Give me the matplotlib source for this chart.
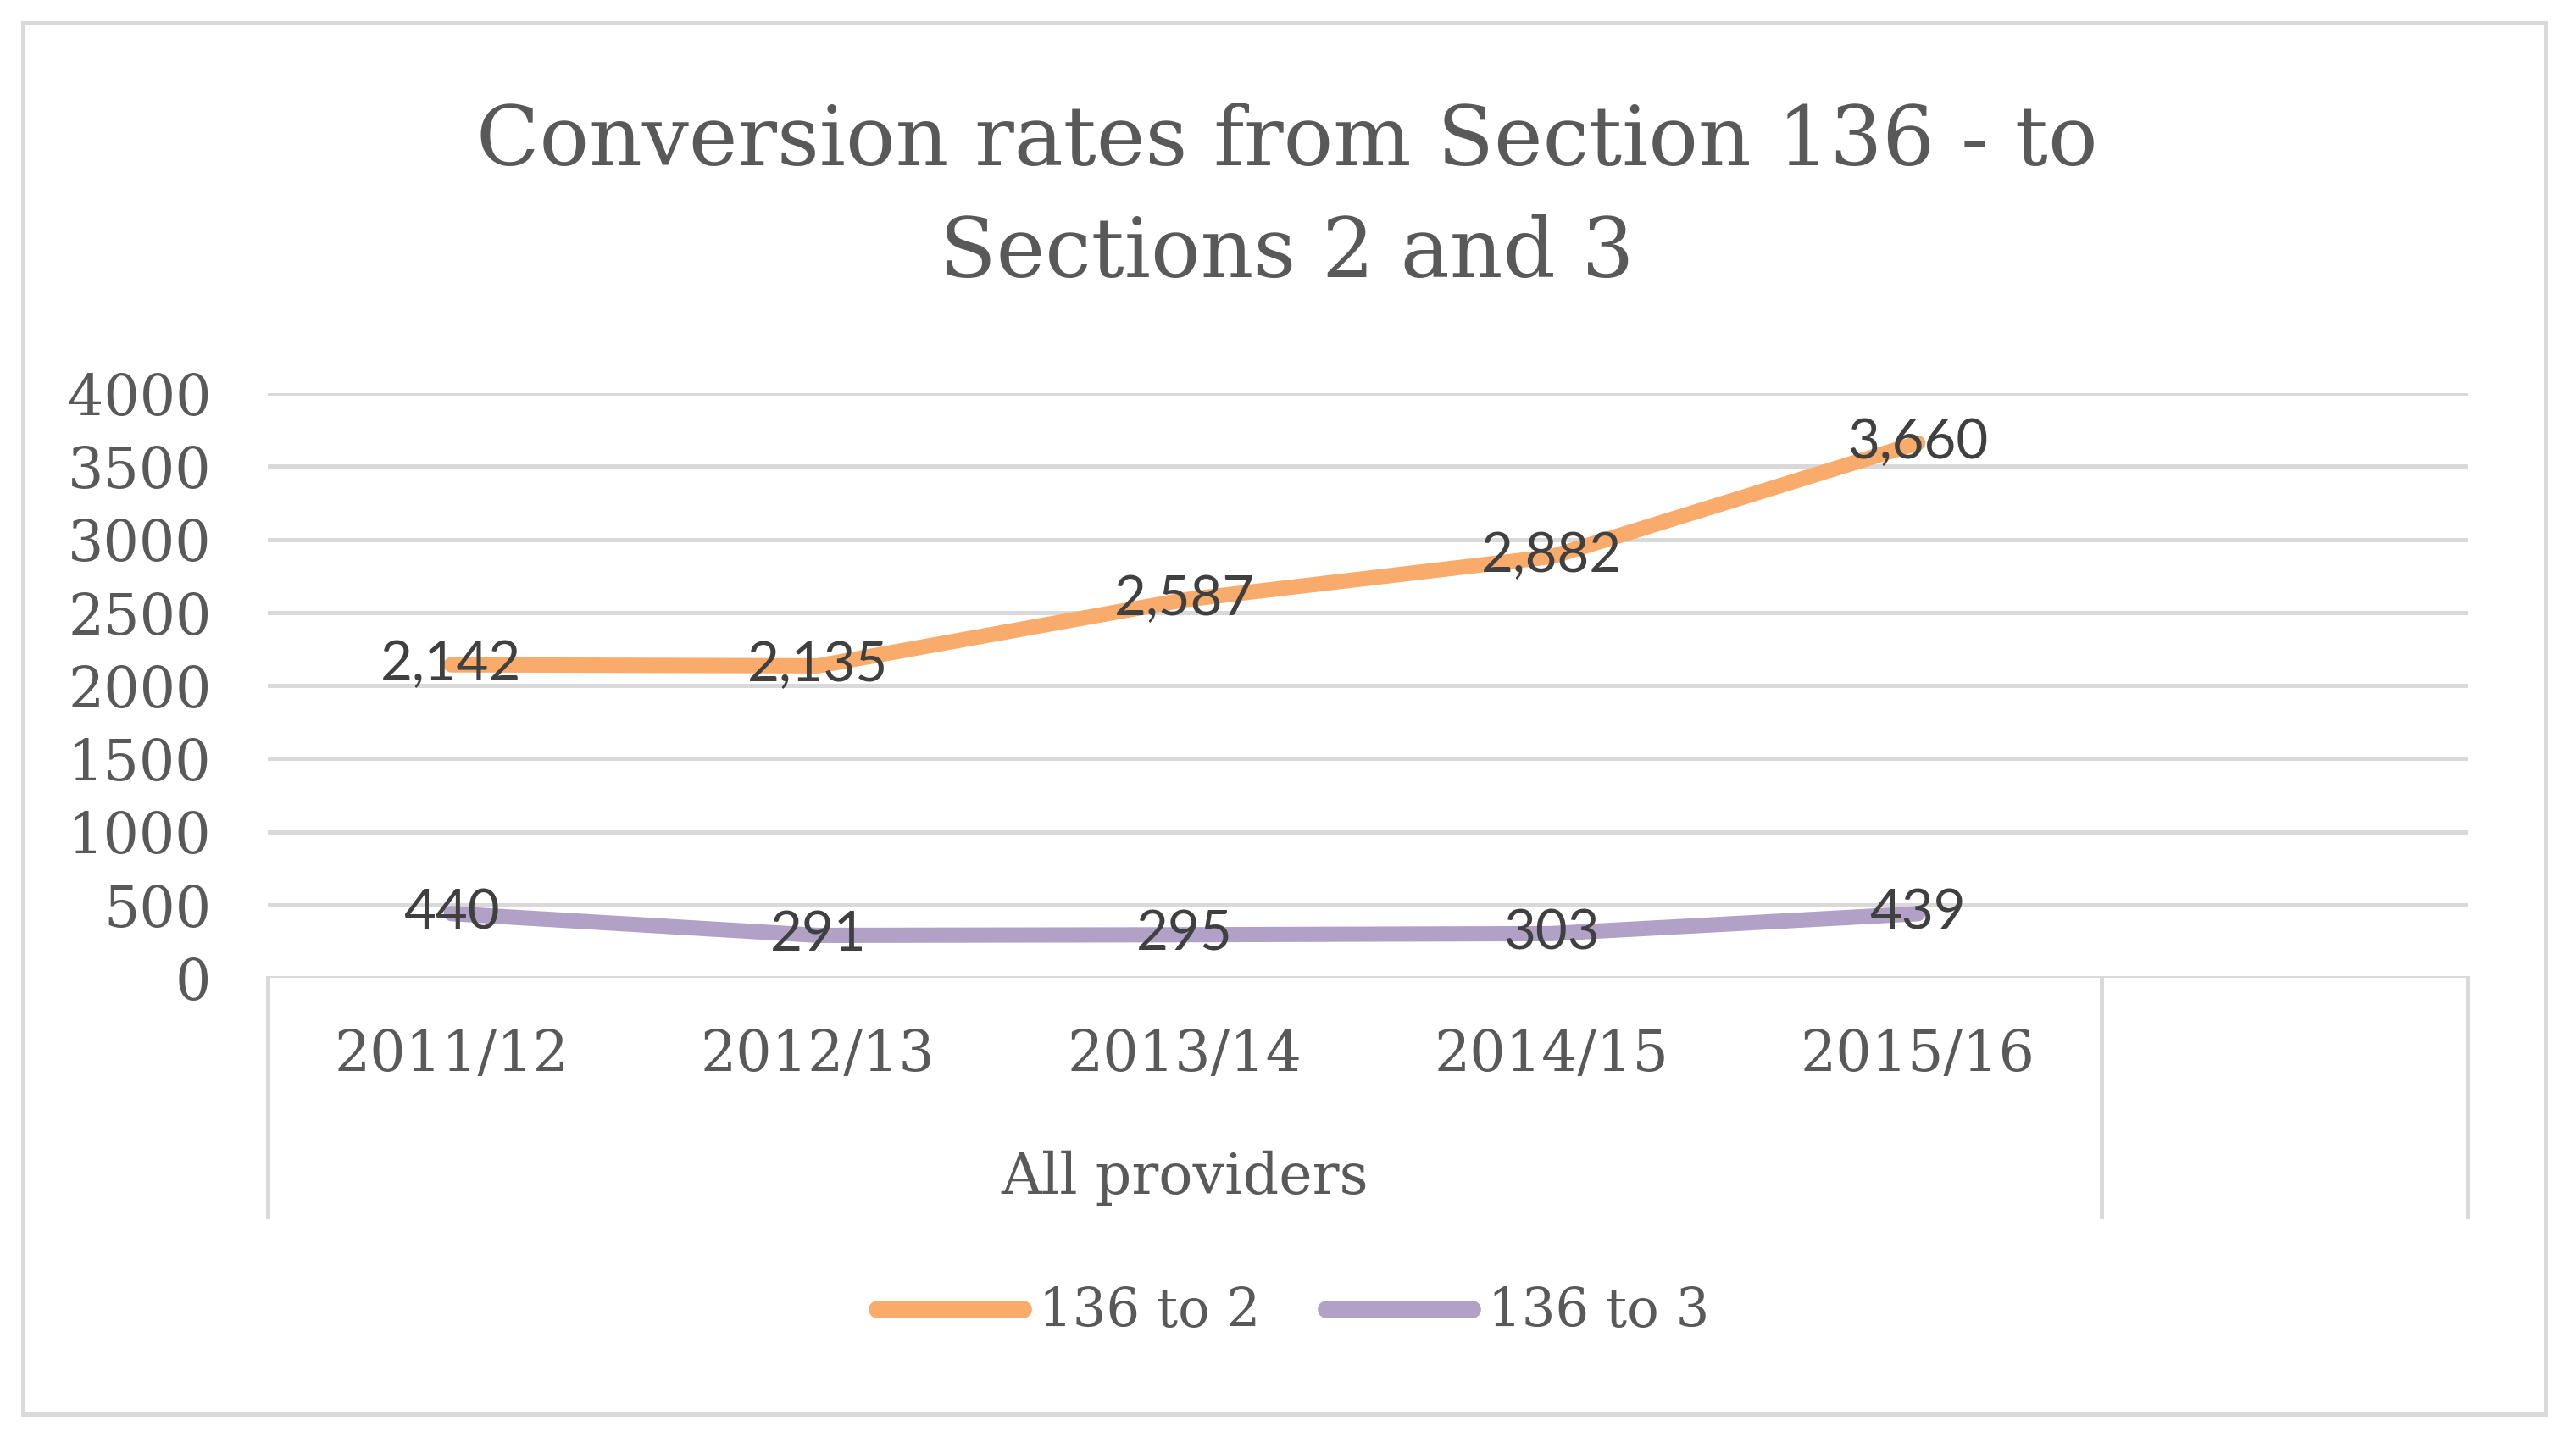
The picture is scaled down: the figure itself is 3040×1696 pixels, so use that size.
import matplotlib
matplotlib.use("Agg")
import matplotlib.pyplot as plt
import matplotlib.transforms as mtransforms
from matplotlib.patches import Rectangle

years = ["2011/12", "2012/13", "2013/14", "2014/15", "2015/16"]
to_sec2 = [2142, 2135, 2587, 2882, 3660]
to_sec3 = [440, 291, 295, 303, 439]
yticks = [0, 500, 1000, 1500, 2000, 2500, 3000, 3500, 4000]
group_name = "All providers"

orange = "#F8AB6B"
purple = "#B1A1C7"
grid_c = "#D9D9D9"
txt_c = "#595959"
lbl_c = "#404040"
serif = "DejaVu Serif"

fig = plt.figure(figsize=(15.2, 8.48), dpi=200)
ax = fig.add_axes([0.104, 0.3195, 0.854, 0.4068])

xs = list(range(len(years)))
ax.plot(xs, to_sec2, color=orange, lw=6.5, solid_capstyle="round", label="136 to 2", zorder=3)
ax.plot(xs, to_sec3, color=purple, lw=6.5, solid_capstyle="round", label="136 to 3", zorder=3)

# data labels centred on the points
for x, v in zip(xs, to_sec2):
    ax.text(x, v, f"{v:,}", ha="center", va="center", fontsize=23.5, family="Lato", color=lbl_c, zorder=4)
for x, v in zip(xs, to_sec3):
    ax.text(x, v, f"{v:,}", ha="center", va="center", fontsize=23.5, family="Lato", color=lbl_c, zorder=4)

ax.set_xlim(-0.5, 5.5)
ax.set_ylim(0, 4000)
ax.set_yticks(yticks)
ax.set_yticklabels([str(t) for t in yticks], family=serif, fontsize=24, color=txt_c)
ax.tick_params(axis="y", length=0, pad=24)
ax.set_xticks([])
ax.grid(axis="y", color=grid_c, lw=1.8)
ax.set_axisbelow(True)
for s in ax.spines.values():
    s.set_visible(False)
ax.axhline(0, color=grid_c, lw=1.8, zorder=2)

# category axis: year labels, group label and separators
trans = mtransforms.blended_transform_factory(ax.transData, ax.transAxes)
for x, y in zip(xs, years):
    ax.text(x, -0.132, y, transform=trans, ha="center", va="center", family=serif, fontsize=24, color=txt_c)
ax.text(2, -0.343, group_name, transform=trans, ha="center", va="center", family=serif, fontsize=24, color=txt_c)
for sx in [-0.5, 4.5, 5.5]:
    ax.plot([sx, sx], [0, -0.409], transform=trans, color=grid_c, lw=1.8, clip_on=False)

fig.text(0.4995, 0.862, "Conversion rates from Section 136 - to\nSections 2 and 3",
         ha="center", va="center", family=serif, fontsize=35, color=txt_c, linespacing=1.52)

leg = fig.legend(loc="center", bbox_to_anchor=(0.502, 0.0867), ncol=2, frameon=False,
                 prop={"family": serif, "size": 22.5}, handlelength=2.75, handletextpad=0.3,
                 columnspacing=1.25)
for t in leg.get_texts():
    t.set_color(txt_c)
for h in leg.get_lines():
    h.set_linewidth(7.5)

fig.patches.append(Rectangle((0.009, 0.016), 0.979, 0.968, transform=fig.transFigure,
                             fill=False, edgecolor=grid_c, lw=1.8))

fig.savefig("out.png", dpi=200, facecolor="white")
